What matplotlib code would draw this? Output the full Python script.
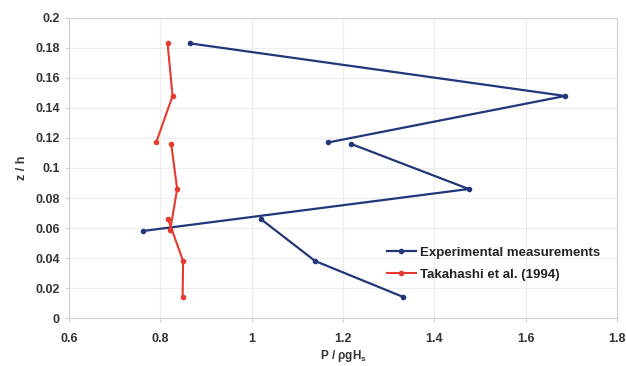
import matplotlib.pyplot as plt
import numpy as np

plt.rcParams['font.family'] = ['Liberation Sans', 'DejaVu Sans']

# 資料：三段量測（以 NaN 分隔）
z_exp = [0.183, 0.148, 0.117, np.nan, 0.116, 0.086, 0.058, np.nan, 0.066, 0.038, 0.014]
p_exp = [0.866, 1.686, 1.167, np.nan, 1.218, 1.475, 0.762, np.nan, 1.020, 1.139, 1.332]

z_tak = [0.183, 0.148, 0.117, np.nan, 0.116, 0.086, 0.059, np.nan, 0.066, 0.038, 0.014]
p_tak = [0.816, 0.827, 0.791, np.nan, 0.824, 0.837, 0.822, np.nan, 0.817, 0.850, 0.849]

xticks = [0.6, 0.8, 1.0, 1.2, 1.4, 1.6, 1.8]
xtick_labels = ['0.6', '0.8', '1', '1.2', '1.4', '1.6', '1.8']
yticks = [0, 0.02, 0.04, 0.06, 0.08, 0.1, 0.12, 0.14, 0.16, 0.18, 0.2]
ytick_labels = ['0', '0.02', '0.04', '0.06', '0.08', '0.1', '0.12', '0.14', '0.16', '0.18', '0.2']

fig = plt.figure(figsize=(6.26, 3.66), dpi=100)
ax = fig.add_axes([0.110, 0.131, 0.876, 0.820])

ax.plot(p_exp, z_exp, color='#22367a', lw=1.6, marker='o', ms=3,
        label='Experimental measurements')
ax.plot(p_tak, z_tak, color='#e63a2e', lw=1.5, marker='o', ms=3,
        label='Takahashi et al. (1994)')

ax.set_xlim(0.6, 1.8)
ax.set_ylim(0, 0.2)
ax.set_xticks(xticks)
ax.set_xticklabels(xtick_labels)
ax.set_yticks(yticks)
ax.set_yticklabels(ytick_labels)
ax.grid(True, color='#ececec', lw=0.8)
ax.set_axisbelow(True)
for s in ax.spines.values():
    s.set_color('#d0d0d0')
ax.tick_params(colors='#d0d0d0', labelcolor='#333333', labelsize=9, length=3)
for lbl in ax.get_xticklabels() + ax.get_yticklabels():
    lbl.set_fontweight('bold')
ax.tick_params(axis='x', pad=8)

ax.set_xlabel(r'P / ρgH$_\mathregular{s}$', fontsize=8.5, fontweight='bold',
              color='#333333', labelpad=2)
ax.set_ylabel('z / h', fontsize=9, fontweight='bold', color='#333333', labelpad=5)

leg = ax.legend(loc='lower right', bbox_to_anchor=(0.99, 0.085), frameon=False,
                fontsize=9.5, handlelength=2.2, handletextpad=0.3, labelspacing=0.75)
for t in leg.get_texts():
    t.set_fontweight('bold')
    t.set_color('#222222')

fig.savefig('out.png', dpi=100)
